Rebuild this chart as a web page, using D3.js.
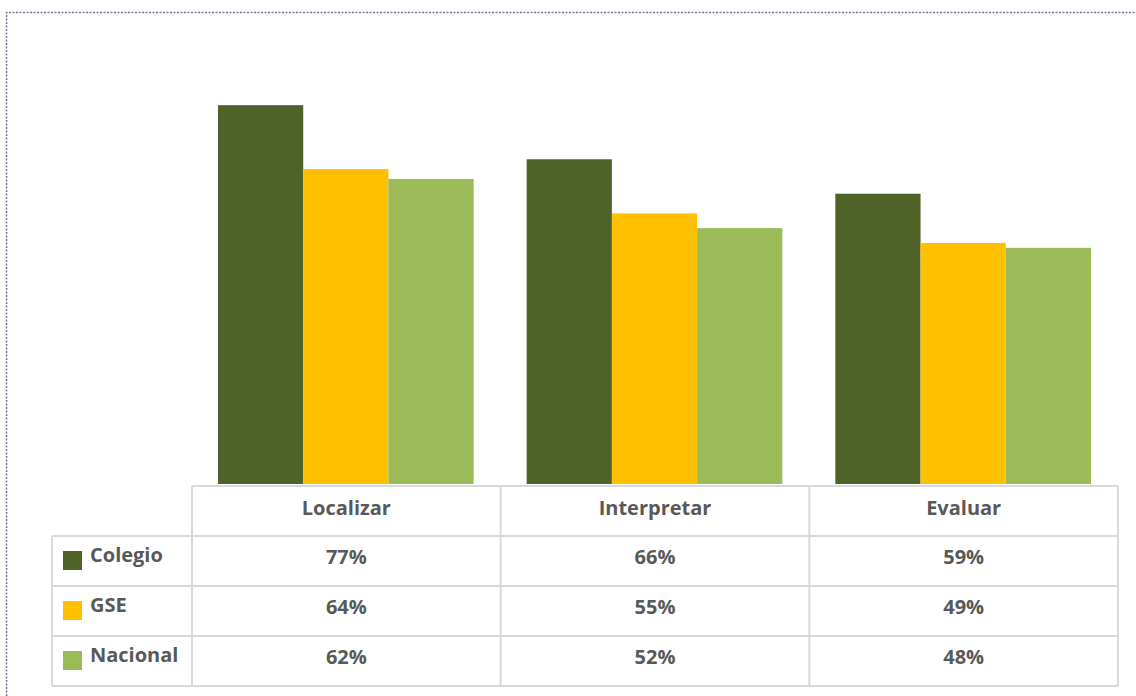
<!DOCTYPE html>
<html lang="es">
<head>
<meta charset="UTF-8">
<title>Resultados</title>
<script src="https://cdnjs.cloudflare.com/ajax/libs/d3/7.8.5/d3.min.js"></script>
<style>
  body { margin: 0; background: #fff; }
  svg { display: block; font-family: "Open Sans", Lato, sans-serif; }
</style>
</head>
<body>
<div id="chart"></div>
<script>
const categories = ["Localizar", "Interpretar", "Evaluar"];
const series = ["Colegio", "GSE", "Nacional"];
const colegio = [77, 66, 59];
const gse = [64, 55, 49];
const nacional = [62, 52, 48];
const colors = ["#4f6228", "#ffc000", "#9bbb59"];

const values = [colegio, gse, nacional];

const width = 1136, height = 696;
const svg = d3.select("#chart").append("svg")
    .attr("width", width)
    .attr("height", height);

// dotted frame
svg.append("path")
    .attr("d", `M6.5,${height} V12.5 H${width}`)
    .attr("fill", "none")
    .attr("stroke", "#7b7096")
    .attr("stroke-width", 1.5)
    .attr("stroke-dasharray", "2,1.5");

const x0 = d3.scaleBand()
    .domain(categories)
    .range([192, 1118])
    .paddingInner(0)
    .paddingOuter(0);

const x1 = d3.scaleBand()
    .domain(series)
    .range([26, x0.bandwidth() - 27]);

const y = d3.scaleLinear()
    .domain([0, 100])
    .range([484, -8]);

const groups = svg.append("g").selectAll("g")
    .data(categories)
    .join("g")
    .attr("transform", d => `translate(${x0(d)},0)`);

groups.selectAll("rect")
    .data((c, i) => series.map((s, j) => ({ s, v: values[j][i], j })))
    .join("rect")
    .attr("x", d => x1(d.s))
    .attr("y", d => y(d.v))
    .attr("width", x1.bandwidth())
    .attr("height", d => y(0) - y(d.v))
    .attr("fill", d => colors[d.j]);

// data table
const rowY = d3.scaleBand()
    .domain(["head"].concat(series))
    .range([486, 686]);

const legendLeft = 52;
const gridColor = "#d9d9d9";
const tbl = svg.append("g");

// horizontal lines
rowY.domain().forEach((r, i) => {
    tbl.append("line")
        .attr("x1", i === 0 ? x0.range()[0] : legendLeft)
        .attr("x2", x0.range()[1])
        .attr("y1", rowY(r)).attr("y2", rowY(r))
        .attr("stroke", gridColor).attr("stroke-width", 2);
});
tbl.append("line")
    .attr("x1", legendLeft).attr("x2", x0.range()[1])
    .attr("y1", rowY.range()[1]).attr("y2", rowY.range()[1])
    .attr("stroke", gridColor).attr("stroke-width", 2);

// vertical lines
tbl.append("line")
    .attr("x1", legendLeft).attr("x2", legendLeft)
    .attr("y1", rowY(series[0])).attr("y2", rowY.range()[1])
    .attr("stroke", gridColor).attr("stroke-width", 2);
categories.forEach(c => {
    tbl.append("line")
        .attr("x1", x0(c)).attr("x2", x0(c))
        .attr("y1", rowY.range()[0]).attr("y2", rowY.range()[1])
        .attr("stroke", gridColor).attr("stroke-width", 2);
});
tbl.append("line")
    .attr("x1", x0.range()[1]).attr("x2", x0.range()[1])
    .attr("y1", rowY.range()[0]).attr("y2", rowY.range()[1])
    .attr("stroke", gridColor).attr("stroke-width", 2);

const txt = "#595959";
const fs = 20;

// header labels
tbl.selectAll("text.head")
    .data(categories)
    .join("text")
    .attr("class", "head")
    .attr("x", d => x0(d) + x0.bandwidth() / 2)
    .attr("y", rowY("head") + 29)
    .attr("text-anchor", "middle")
    .attr("font-size", fs)
    .attr("font-weight", "bold")
    .attr("fill", txt)
    .text(d => d);

// legend cells
series.forEach((s, j) => {
    tbl.append("rect")
        .attr("x", 63)
        .attr("y", rowY(s) + 15)
        .attr("width", 19).attr("height", 19)
        .attr("fill", colors[j]);
    tbl.append("text")
        .attr("x", 90)
        .attr("y", rowY(s) + 26)
        .attr("font-size", fs)
        .attr("font-weight", "bold")
        .attr("fill", txt)
        .text(s);
    categories.forEach((c, i) => {
        tbl.append("text")
            .attr("x", x0(c) + x0.bandwidth() / 2)
            .attr("y", rowY(s) + 28)
            .attr("text-anchor", "middle")
            .attr("font-size", fs)
            .attr("font-weight", "bold")
            .attr("fill", txt)
            .text(values[j][i] + "%");
    });
});
</script>
</body>
</html>
